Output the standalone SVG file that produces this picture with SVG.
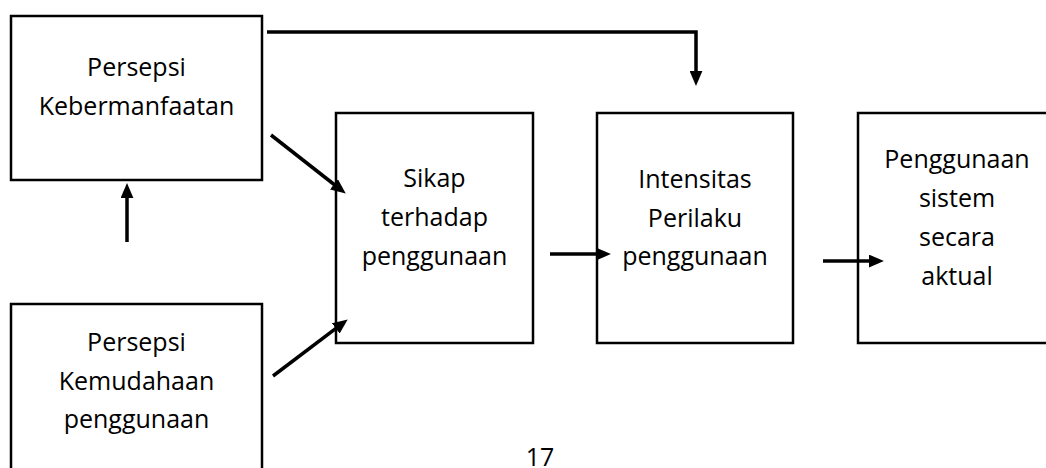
<svg xmlns="http://www.w3.org/2000/svg" width="1046" height="468" viewBox="0 0 1046 468">
<style>
.box{fill:#fff;stroke:#000;stroke-width:2.5}
.lbl{font-family:"Open Sans","Noto Sans",sans-serif;font-size:25px;fill:#000;text-anchor:middle}
.con{fill:none;stroke:#000;stroke-width:3.5}
</style>
<defs>
<marker id="ah" viewBox="0 0 14 12" refX="1" refY="6" markerWidth="15" markerHeight="13" markerUnits="userSpaceOnUse" orient="auto">
<path d="M0,0 L14,6 L0,12 z" fill="#000"/>
</marker>
</defs>
<rect width="1046" height="468" fill="#fff"/>
<g id="persepsi-kebermanfaatan">
<rect class="box" x="11" y="16" width="251" height="164"/>
<text class="lbl" x="136.5" y="76">Persepsi</text>
<text class="lbl" x="136.5" y="115">Kebermanfaatan</text>
</g>
<g id="persepsi-kemudahaan">
<rect class="box" x="11" y="304" width="251" height="200"/>
<text class="lbl" x="136.5" y="351">Persepsi</text>
<text class="lbl" x="136.5" y="390">Kemudahaan</text>
<text class="lbl" x="136.5" y="428">penggunaan</text>
</g>
<g id="sikap">
<rect class="box" x="336" y="113" width="197" height="230"/>
<text class="lbl" x="434.5" y="187">Sikap</text>
<text class="lbl" x="434.5" y="226">terhadap</text>
<text class="lbl" x="434.5" y="265">penggunaan</text>
</g>
<g id="intensitas">
<rect class="box" x="597" y="113" width="196" height="230"/>
<text class="lbl" x="695" y="188">Intensitas</text>
<text class="lbl" x="695" y="227">Perilaku</text>
<text class="lbl" x="695" y="265">penggunaan</text>
</g>
<g id="penggunaan-aktual">
<rect class="box" x="858" y="113" width="200" height="230"/>
<text class="lbl" x="957" y="168">Penggunaan</text>
<text class="lbl" x="957" y="207">sistem</text>
<text class="lbl" x="957" y="246">secara</text>
<text class="lbl" x="957" y="285">aktual</text>
</g>
<g id="connectors">
<path class="con" d="M267,32 H696 V72" marker-end="url(#ah)"/>
<path class="con" d="M127,242 V197" marker-end="url(#ah)"/>
<path class="con" d="M271,135 L334.8,185" marker-end="url(#ah)"/>
<path class="con" d="M273,376 L336.6,327.8" marker-end="url(#ah)"/>
<path class="con" d="M550,254 H597" marker-end="url(#ah)"/>
<path class="con" d="M823,261 H870" marker-end="url(#ah)"/>
</g>
<text class="lbl" x="540" y="466">17</text>
</svg>
